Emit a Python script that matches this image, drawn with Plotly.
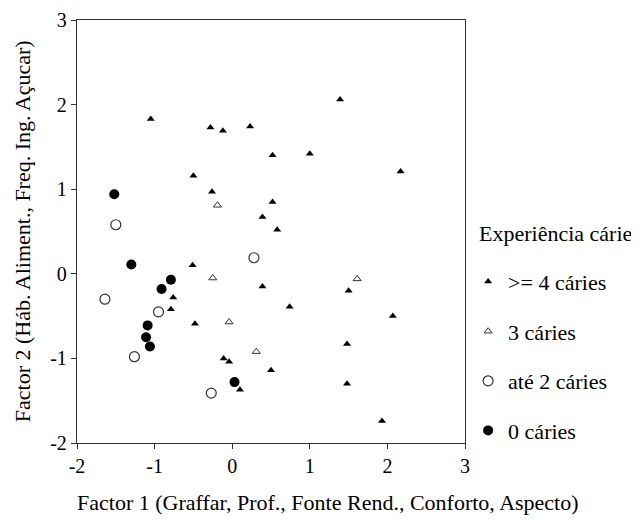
import plotly.graph_objects as go

# >= 4 cáries (filled triangles)
g4_x = [-1.05, -0.28, -0.12, 0.23, -0.50, -0.26, 1.39, 0.52, 1.00, 2.17, 0.52, 0.39, 0.58,
        -0.51, -0.76, -0.79, -0.48, -0.11, -0.04, 0.10, 0.39, 1.50, 0.74, 2.07, 1.48, 0.50, 1.48, 1.93]
g4_y = [1.83, 1.73, 1.69, 1.74, 1.16, 0.97, 2.06, 1.40, 1.42, 1.21, 0.85, 0.67, 0.52,
        0.10, -0.28, -0.42, -0.59, -1.00, -1.04, -1.37, -0.15, -0.20, -0.39, -0.50, -0.83, -1.14, -1.30, -1.74]
# 3 cáries (open triangles)
g3_x = [-0.19, -0.25, -0.04, 0.31, 1.61]
g3_y = [0.81, -0.05, -0.57, -0.92, -0.06]
# até 2 cáries (open circles)
g2_x = [-1.50, 0.28, -1.64, -0.95, -1.26, -0.27]
g2_y = [0.58, 0.19, -0.30, -0.45, -0.98, -1.41]
# 0 cáries (filled circles)
g0_x = [-1.52, -1.30, -0.79, -0.91, -1.09, -1.11, -1.06, 0.03]
g0_y = [0.94, 0.11, -0.07, -0.18, -0.61, -0.75, -0.86, -1.28]

labels = [">= 4 cáries", "3 cáries", "até 2 cáries", "0 cáries"]
legend_title = "Experiência cárie"
ticks = [-2, -1, 0, 1, 2, 3]

FONT = "Liberation Serif, Times New Roman, serif"
AX = "#333333"

fig = go.Figure()
fig.add_trace(go.Scatter(x=g4_x, y=g4_y, mode="markers", name=labels[0], legendgroup="a",
                         marker=dict(symbol="triangle-up", size=7, color="black", line=dict(width=0))))
fig.add_trace(go.Scatter(x=g3_x, y=g3_y, mode="markers", name=labels[1], legendgroup="b",
                         marker=dict(symbol="triangle-up-open", size=7, color="#333", line=dict(width=1))))
fig.add_trace(go.Scatter(x=g2_x, y=g2_y, mode="markers", name=labels[2], legendgroup="c",
                         marker=dict(symbol="circle-open", size=10, color="#333", line=dict(width=1.2))))
fig.add_trace(go.Scatter(x=g0_x, y=g0_y, mode="markers", name=labels[3], legendgroup="d",
                         marker=dict(symbol="circle", size=10, color="black", line=dict(width=0))))

fig.update_layout(
    width=631, height=515,
    margin=dict(l=69, r=174, t=12, b=80, autoexpand=False),
    paper_bgcolor="white", plot_bgcolor="white",
    font=dict(family=FONT, size=20, color="black"),
    showlegend=True,
    legend=dict(x=1.008, xanchor="left", y=0.205, yanchor="middle",
                font=dict(size=22, family=FONT, color="black"), tracegroupgap=18, itemsizing="trace",
                bgcolor="rgba(0,0,0,0)"),
    xaxis=dict(range=[-2, 3], tickvals=ticks, ticktext=[str(t) for t in ticks], automargin=False,
               showgrid=False, zeroline=False, showline=True, linecolor=AX, linewidth=1.3,
               mirror=True, ticks="outside", ticklen=5, tickcolor=AX,
               tickfont=dict(size=20, family=FONT, color="black")),
    yaxis=dict(range=[-2, 3], tickvals=ticks, ticktext=[str(t) for t in ticks], automargin=False,
               showgrid=False, zeroline=False, showline=True, linecolor=AX, linewidth=1.3,
               mirror=True, ticks="outside", ticklen=5, tickcolor=AX,
               tickfont=dict(size=20, family=FONT, color="black")),
    annotations=[
        dict(text=legend_title, xref="paper", yref="paper", x=1.031, y=0.4964,
             xanchor="left", yanchor="middle", showarrow=False,
             font=dict(size=22, family=FONT, color="black")),
        dict(text="Factor 1 (Graffar, Prof., Fonte Rend., Conforto, Aspecto)",
             xref="paper", yref="paper", x=0.647, y=-0.141, xanchor="center", yanchor="middle",
             showarrow=False, font=dict(size=22, family=FONT, color="black")),
        dict(text="Factor 2 (Háb. Aliment., Freq. Ing. Açucar)", textangle=-90,
             xref="paper", yref="paper", x=-0.14, y=0.5, xanchor="center", yanchor="middle",
             showarrow=False, font=dict(size=22, family=FONT, color="black")),
    ],
)

fig.write_html("out.html")
